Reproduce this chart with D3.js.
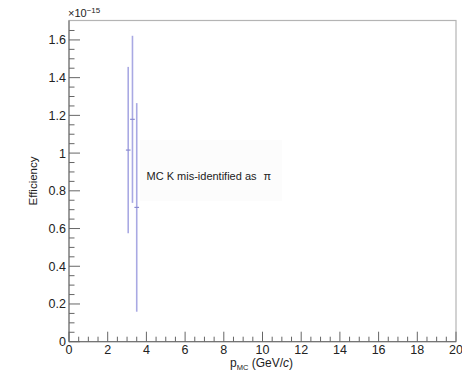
<!DOCTYPE html>
<html><head><meta charset="utf-8">
<script src="https://cdn.jsdelivr.net/npm/d3@7"></script>
<style>body{margin:0;background:#fff;}svg{display:block;font-family:"Liberation Sans",Arial,sans-serif;}</style>
</head><body><svg id="c" width="462" height="375"></svg>
<script>
const pMC = [3.06, 3.28, 3.50];
const pErr = [0.12, 0.12, 0.12];
const efficiency = [1.016, 1.179, 0.712];
const effErr = [0.441, 0.443, 0.553];
const xTicks = [0, 2, 4, 6, 8, 10, 12, 14, 16, 18, 20];
const yTicks = [0, 0.2, 0.4, 0.6, 0.8, 1, 1.2, 1.4, 1.6];
const legendText = "MC K mis-identified as ";

const svg = d3.select("#c");
const L = 69, R = 456, T = 20.5, B = 341.7;
const x = d3.scaleLinear().domain([0, 20]).range([L, R]);
const y = d3.scaleLinear().domain([0, 1.703]).range([B, T]);

// frame
svg.append("rect").attr("x", L).attr("y", T).attr("width", R - L).attr("height", B - T)
  .attr("fill", "none").attr("stroke", "#b4b4b4").attr("stroke-width", 1.2);

// x axis
const xMinor = d3.range(0, 20.001, 0.5);
svg.append("g").selectAll("line").data(xMinor).join("line")
  .attr("x1", d => x(d)).attr("x2", d => x(d))
  .attr("y1", B).attr("y2", d => Math.abs(d % 2) < 1e-9 ? B - 10 : B - 5)
  .attr("stroke", "#666").attr("stroke-width", 1);
svg.append("line").attr("x1", L).attr("x2", R).attr("y1", B).attr("y2", B).attr("stroke", "#666");
svg.append("g").selectAll("text").data(xTicks).join("text")
  .attr("x", d => x(d)).attr("y", B + 12).attr("text-anchor", "middle")
  .attr("font-size", 12.5).attr("fill", "#222").text(d => d);

// y axis
const yMinor = d3.range(0, 1.7, 0.05);
svg.append("g").selectAll("line").data(yMinor).join("line")
  .attr("x1", L).attr("x2", (d, i) => i % 4 === 0 ? L + 11 : L + 5.5)
  .attr("y1", d => y(d)).attr("y2", d => y(d))
  .attr("stroke", "#666").attr("stroke-width", 1);
svg.append("line").attr("x1", L).attr("x2", L).attr("y1", T).attr("y2", B).attr("stroke", "#666");
svg.append("g").selectAll("text").data(yTicks).join("text")
  .attr("x", L - 3).attr("y", d => y(d) + 4.5).attr("text-anchor", "end")
  .attr("font-size", 12.5).attr("fill", "#222").text(d => d);

// exponent
const ex = svg.append("text").attr("x", L - 1).attr("y", 17).attr("font-size", 11).attr("fill", "#222");
ex.append("tspan").text("\u00d710");
ex.append("tspan").attr("font-size", 8).attr("dy", -4).text("\u221215");

// axis titles
svg.append("text").attr("transform", `translate(37,${181}) rotate(-90)`)
  .attr("text-anchor", "middle").attr("font-size", 11.5).attr("fill", "#222").text("Efficiency");
const xt = svg.append("text").attr("x", 230).attr("y", 367).attr("font-size", 12).attr("fill", "#222");
xt.append("tspan").text("p");
xt.append("tspan").attr("font-size", 7.5).attr("dy", 3).text("MC");
xt.append("tspan").attr("dy", -3).text(" (GeV/");
xt.append("tspan").attr("font-style", "italic").text("c");
xt.append("tspan").text(")");

// legend box
svg.append("rect").attr("x", 140).attr("y", 140).attr("width", 142).attr("height", 61).attr("fill", "#fcfcfc");
const lt = svg.append("text").attr("x", 146.5).attr("y", 179.5).attr("font-size", 11).attr("fill", "#222");
lt.append("tspan").text(legendText);
lt.append("tspan").attr("dx", 4).text("\u03c0");

// error bars
const col = "#a9a9e3";
const g = svg.append("g");
pMC.forEach((p, i) => {
  g.append("line").attr("x1", x(p)).attr("x2", x(p))
    .attr("y1", y(efficiency[i] + effErr[i])).attr("y2", y(efficiency[i] - effErr[i]))
    .attr("stroke", col).attr("stroke-width", 1.6);
  g.append("line").attr("x1", x(p - pErr[i])).attr("x2", x(p + pErr[i]))
    .attr("y1", y(efficiency[i])).attr("y2", y(efficiency[i]))
    .attr("stroke", "#8a8ad0").attr("stroke-width", 1.2);
});
</script></body></html>
